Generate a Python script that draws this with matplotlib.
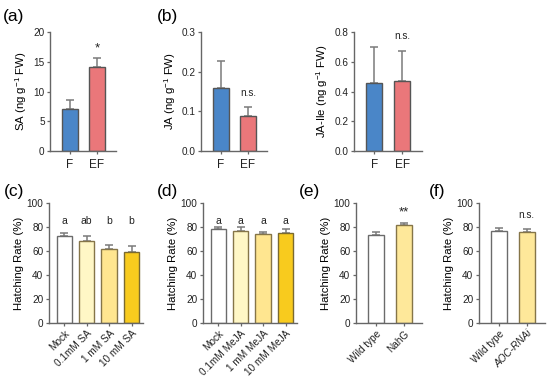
import matplotlib
matplotlib.use("Agg")
import matplotlib.pyplot as plt
import numpy as np

plt.rcParams["font.family"] = ["Liberation Sans", "DejaVu Sans"]
plt.rcParams["mathtext.fontset"] = "custom"
plt.rcParams["mathtext.rm"] = "Liberation Sans"
plt.rcParams["mathtext.it"] = "Liberation Sans:italic"

# ── Data ─────────────────────────────────────────────────────────────────────
fe_labels = ["F", "EF"]
sa_mean = [7.0, 14.2]
sa_err = [1.5, 1.4]
ja_mean = [0.158, 0.087]
ja_err = [0.068, 0.023]
jaile_mean = [0.455, 0.472]
jaile_err = [0.245, 0.200]

sa_labels = ["Mock", "0.1mM SA", "1 mM SA", "10 mM SA"]
sa_hatch = [72.5, 68.5, 61.5, 59.5]
sa_hatch_err = [2.5, 3.8, 3.5, 4.8]
sa_letters = ["a", "ab", "b", "b"]

meja_labels = ["Mock", "0.1mM MeJA", "1 mM MeJA", "10 mM MeJA"]
meja_hatch = [78.0, 77.0, 74.0, 75.0]
meja_hatch_err = [2.2, 2.8, 2.0, 3.5]
meja_letters = ["a", "a", "a", "a"]

nahg_labels = ["Wild type", "NahG"]
nahg_hatch = [73.5, 82.0]
nahg_hatch_err = [2.2, 1.6]

aoc_labels = ["Wild type", "AOC-RNAi"]
aoc_hatch = [76.5, 75.5]
aoc_hatch_err = [2.3, 2.8]

# ── Style ────────────────────────────────────────────────────────────────────
BLUE, RED = "#4a86c8", "#ea777a"
YELLOWS = ["#ffffff", "#fff7c6", "#ffe690", "#f8cb1e"]
YEL = "#fee89a"
SPINE = "#666666"
ERR = "#7a7a7a"
TICK_FS = 7.2
LAB_FS = 8.2

W, H = 550, 378
fig = plt.figure(figsize=(5.5, 3.78), dpi=100, facecolor="white")


def axes_px(x0, x1, ytop, ybot):
    return fig.add_axes([x0 / W, 1 - ybot / H, (x1 - x0) / W, (ybot - ytop) / H])


def style(ax, ylim, yticks, fmt="{:g}"):
    for s in ["top", "right"]:
        ax.spines[s].set_visible(False)
    for s in ["left", "bottom"]:
        ax.spines[s].set_color(SPINE)
        ax.spines[s].set_linewidth(1.0)
    ax.set_ylim(*ylim)
    ax.set_yticks(yticks)
    ax.set_yticklabels([fmt.format(v) for v in yticks])
    ax.tick_params(axis="both", colors=SPINE, length=2.5, width=0.9,
                   labelsize=TICK_FS, labelcolor="#222222", pad=1.5)


def bars(ax, means, errs, colors, edges, width):
    x = np.arange(len(means))
    ax.errorbar(x, means, yerr=[np.zeros(len(errs)), errs], fmt="none",
                ecolor=ERR, elinewidth=1.1, capsize=2.6, capthick=1.1, zorder=1)
    ax.bar(x, means, width=width, color=colors, edgecolor=edges,
           linewidth=1.0, zorder=2)
    return x


def panel(x, y, t):
    fig.text(x / W, 1 - y / H, t, fontsize=12.5, ha="center", va="center")


# ── Top row ──────────────────────────────────────────────────────────────────
top = [
    (50.3, 116, sa_mean, sa_err, (0, 20), [0, 5, 10, 15, 20], "{:g}",
     "SA (ng g$^{-1}$ FW)", "*", 16.3),
    (201.3, 267, ja_mean, ja_err, (0, 0.3), [0.0, 0.1, 0.2, 0.3], "{:.1f}",
     "JA (ng g$^{-1}$ FW)", "n.s.", 0.134),
    (354, 421.7, jaile_mean, jaile_err, (0, 0.8), [0.0, 0.2, 0.4, 0.6, 0.8], "{:.1f}",
     "JA-Ile (ng g$^{-1}$ FW)", "n.s.", 0.74),
]
for x0, x1, m, e, yl, yt, fmt, ylab, mark, my in top:
    ax = axes_px(x0, x1, 32, 151)
    x = bars(ax, m, e, [BLUE, RED], "#555555", 0.57)
    style(ax, yl, yt, fmt)
    ax.set_xlim(-0.72, 1.70)
    ax.set_xticks(x)
    ax.set_xticklabels(fe_labels, fontsize=8.5)
    ax.tick_params(axis="x", pad=3)
    ax.set_ylabel(ylab, fontsize=LAB_FS, labelpad=3)
    ax.text(1, my, mark, ha="center", va="bottom",
            fontsize=9.5 if mark == "*" else 7.2, color="#222222")

# ── Bottom row ───────────────────────────────────────────────────────────────
edge_y = ["#6b6b6b", "#857548", "#857548", "#7a6a30"]
four = [
    (49, 143, sa_hatch, sa_hatch_err, sa_labels, sa_letters),
    (203, 297, meja_hatch, meja_hatch_err, meja_labels, meja_letters),
]
for x0, x1, m, e, labs, letters in four:
    ax = axes_px(x0, x1, 203, 323)
    x = bars(ax, m, e, YELLOWS, edge_y, 0.68)
    style(ax, (0, 100), [0, 20, 40, 60, 80, 100])
    ax.set_xlim(-0.68, 3.51)
    ax.set_xticks(x)
    ax.set_xticklabels(labs, rotation=45, ha="right", rotation_mode="anchor",
                       fontsize=TICK_FS)
    ax.set_ylabel("Hatching Rate (%)", fontsize=LAB_FS, labelpad=2)
    for xi, t in zip(x, letters):
        ax.text(xi, 80.5, t, ha="center", va="bottom", fontsize=7.5, color="#222222")

two = [
    (356, 421.7, nahg_hatch, nahg_hatch_err, nahg_labels, "**", 87.5, 9.5),
    (479, 545, aoc_hatch, aoc_hatch_err, aoc_labels, "n.s.", 85.5, 7.2),
]
for x0, x1, m, e, labs, mark, my, fs in two:
    ax = axes_px(x0, x1, 203, 323)
    x = bars(ax, m, e, ["#ffffff", YEL], ["#6b6b6b", "#857548"], 0.58)
    style(ax, (0, 100), [0, 20, 40, 60, 80, 100])
    ax.set_xlim(-0.73, 1.66)
    ax.set_xticks(x)
    tl = ax.set_xticklabels(labs, rotation=45, ha="right", rotation_mode="anchor",
                            fontsize=TICK_FS)
    if labs[1] == "AOC-RNAi":
        tl[1].set_style("italic")
    ax.set_ylabel("Hatching Rate (%)", fontsize=LAB_FS, labelpad=2)
    ax.text(1, my, mark, ha="center", va="bottom", fontsize=fs, color="#222222")

# ── Panel letters ────────────────────────────────────────────────────────────
panel(14, 17, "(a)")
panel(167, 17, "(b)")
panel(14, 191, "(c)")
panel(168, 191, "(d)")
panel(310, 191, "(e)")
panel(437, 191, "(f)")

fig.savefig("out.png", dpi=100, facecolor="white")
